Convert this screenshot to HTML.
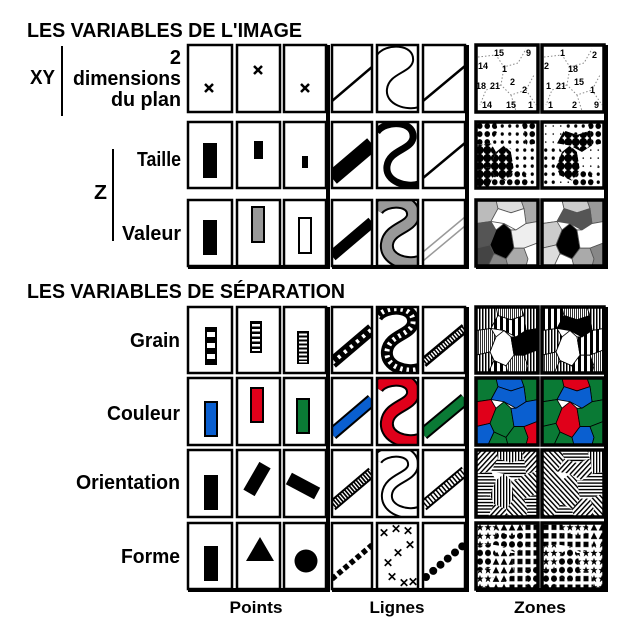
<!DOCTYPE html>
<html><head><meta charset="utf-8"><style>
html,body{margin:0;padding:0;background:#fff}
svg{display:block}
text{font-family:"Liberation Sans",sans-serif;font-weight:bold;fill:#000}
</style></head><body>
<svg width="630" height="630" viewBox="0 0 630 630" xmlns="http://www.w3.org/2000/svg">
<defs>
 <pattern id="g1" width="6" height="6" patternUnits="userSpaceOnUse"><rect width="6" height="6" fill="#fff"/><rect width="3" height="6" fill="#000"/></pattern>
 <pattern id="g2" width="3" height="3" patternUnits="userSpaceOnUse"><rect width="3" height="3" fill="#fff"/><rect width="1.5" height="3" fill="#000"/></pattern>
 <pattern id="g3" width="2" height="2" patternUnits="userSpaceOnUse"><rect width="2" height="2" fill="#fff"/><rect width="0.8" height="2" fill="#000"/></pattern>
 <pattern id="oh" width="3" height="3" patternUnits="userSpaceOnUse"><rect width="3" height="3" fill="#fff"/><rect width="3" height="1.3" fill="#000"/></pattern>
 <pattern id="ov" width="3" height="3" patternUnits="userSpaceOnUse"><rect width="3" height="3" fill="#fff"/><rect width="1.3" height="3" fill="#000"/></pattern>
 <pattern id="od" width="3.5" height="3.5" patternUnits="userSpaceOnUse" patternTransform="rotate(45)"><rect width="3.5" height="3.5" fill="#fff"/><rect width="1.4" height="3.5" fill="#000"/></pattern>
 <pattern id="oa" width="3.5" height="3.5" patternUnits="userSpaceOnUse" patternTransform="rotate(-45)"><rect width="3.5" height="3.5" fill="#fff"/><rect width="1.4" height="3.5" fill="#000"/></pattern>
 <pattern id="d1" width="7.5" height="7.5" patternUnits="userSpaceOnUse"><rect width="8" height="8" fill="#fff"/><circle cx="3.75" cy="3.75" r="3.9" fill="#000"/></pattern>
 <pattern id="d2" width="7.5" height="7.5" patternUnits="userSpaceOnUse"><rect width="8" height="8" fill="#fff"/><circle cx="3.75" cy="3.75" r="2.8" fill="#000"/></pattern>
 <pattern id="d3" width="7.5" height="7.5" patternUnits="userSpaceOnUse"><rect width="8" height="8" fill="#fff"/><circle cx="3.75" cy="3.75" r="1.6" fill="#000"/></pattern>
 <pattern id="d4" width="7.5" height="7.5" patternUnits="userSpaceOnUse"><rect width="8" height="8" fill="#fff"/><circle cx="3.75" cy="3.75" r="0.8" fill="#000"/></pattern>
 <pattern id="fs" width="8" height="8" patternUnits="userSpaceOnUse"><rect width="8" height="8" fill="#fff"/><rect x="1.5" y="1.5" width="5" height="5" fill="#000"/></pattern>
 <pattern id="fc" width="8" height="8" patternUnits="userSpaceOnUse"><rect width="8" height="8" fill="#fff"/><circle cx="4" cy="4" r="3" fill="#000"/></pattern>
 <pattern id="ft" width="8" height="8" patternUnits="userSpaceOnUse"><rect width="8" height="8" fill="#fff"/><polygon points="4,0.8 7.3,7 0.7,7" fill="#000"/></pattern>
 <pattern id="fr" width="8" height="8" patternUnits="userSpaceOnUse"><rect width="8" height="8" fill="#fff"/><polygon points="4,0.5 5,3 7.6,3 5.5,4.6 6.3,7.3 4,5.7 1.7,7.3 2.5,4.6 0.4,3 3,3" fill="#000"/></pattern>
 <g id="map" style="stroke:var(--s,#555);stroke-width:0.8">
  <polygon fill="var(--c1)" points="0,0 20,0 22,8 15,20 0,22"/>
  <polygon fill="var(--c2)" points="20,0 45,0 48,8 35,12 22,8"/>
  <polygon fill="var(--c3)" points="45,0 62,0 62,20 50,22 48,8"/>
  <polygon fill="var(--c4)" points="22,8 35,12 48,8 50,22 40,28 28,22 15,20"/>
  <polygon fill="var(--c5)" points="0,22 15,20 20,28 14,42 0,45"/>
  <polygon fill="var(--c6)" points="20,28 28,22 35,28 38,45 30,55 18,50 14,42"/>
  <polygon fill="var(--c7)" points="35,28 40,28 50,22 62,20 62,40 48,45 38,45"/>
  <polygon fill="var(--c8)" points="0,45 14,42 18,50 12,62 0,62"/>
  <polygon fill="var(--c9)" points="18,50 30,55 32,62 12,62"/>
  <polygon fill="var(--c10)" points="30,55 38,45 48,45 52,55 50,62 32,62"/>
  <polygon fill="var(--c11)" points="48,45 62,40 62,62 50,62 52,55"/>
 </g>
 <path id="sc" d="M0,10 C8,-2 38,-2 36,16 C34,28 12,28 10,44 C8,60 30,66 42,62"/>
</defs>

<text x="27" y="37" font-size="20" textLength="275" lengthAdjust="spacingAndGlyphs">LES VARIABLES DE L'IMAGE</text>
<text x="27" y="298" font-size="20" textLength="318" lengthAdjust="spacingAndGlyphs">LES VARIABLES DE SÉPARATION</text>

<text x="30" y="84" font-size="20" textLength="25" lengthAdjust="spacingAndGlyphs">XY</text>
<rect x="61" y="46" width="2" height="70"/>
<text x="181" y="64" font-size="20" text-anchor="end">2</text>
<text x="181" y="85" font-size="20" text-anchor="end" textLength="108" lengthAdjust="spacingAndGlyphs">dimensions</text>
<text x="181" y="106" font-size="20" text-anchor="end" textLength="70" lengthAdjust="spacingAndGlyphs">du plan</text>
<text x="94" y="199" font-size="20" textLength="13" lengthAdjust="spacingAndGlyphs">Z</text>
<rect x="112" y="149" width="2" height="92"/>
<text x="181" y="166" font-size="20" text-anchor="end" textLength="44" lengthAdjust="spacingAndGlyphs">Taille</text>
<text x="181" y="240" font-size="20" text-anchor="end" textLength="59" lengthAdjust="spacingAndGlyphs">Valeur</text>
<text x="180" y="347" font-size="20" text-anchor="end" textLength="50" lengthAdjust="spacingAndGlyphs">Grain</text>
<text x="180" y="420" font-size="20" text-anchor="end" textLength="73" lengthAdjust="spacingAndGlyphs">Couleur</text>
<text x="180" y="489" font-size="20" text-anchor="end" textLength="104" lengthAdjust="spacingAndGlyphs">Orientation</text>
<text x="180" y="563" font-size="20" text-anchor="end" textLength="59" lengthAdjust="spacingAndGlyphs">Forme</text>
<text x="256" y="613" font-size="17" text-anchor="middle" textLength="53" lengthAdjust="spacingAndGlyphs">Points</text>
<text x="397" y="613" font-size="17" text-anchor="middle" textLength="55" lengthAdjust="spacingAndGlyphs">Lignes</text>
<text x="540" y="613" font-size="17" text-anchor="middle" textLength="52" lengthAdjust="spacingAndGlyphs">Zones</text>

<g fill="none" stroke="#000" stroke-width="2.5">
 <path d="M205,84 l8,8 M213,84 l-8,8 M254,66 l8,8 M262,66 l-8,8 M301,84 l8,8 M309,84 l-8,8"/>
</g>
<rect x="203" y="143" width="14" height="35"/>
<rect x="254" y="141" width="9" height="18"/>
<rect x="302" y="156" width="6" height="12"/>
<rect x="203" y="220" width="14" height="35"/>
<rect x="252" y="207" width="12" height="35" fill="#999" stroke="#000" stroke-width="2"/>
<rect x="299" y="218" width="12" height="35" fill="#fff" stroke="#000" stroke-width="2"/>

<svg x="332" y="45" width="40" height="67"><line x1="0" y1="56" x2="40" y2="22" stroke="#000" stroke-width="2.5"/></svg>
<svg x="377" y="45" width="41" height="67"><use href="#sc" fill="none" stroke="#000" stroke-width="2"/></svg>
<svg x="423" y="45" width="42" height="67"><line x1="0" y1="56" x2="42" y2="21" stroke="#000" stroke-width="2.5"/></svg>
<svg x="332" y="122" width="40" height="66"><line x1="0" y1="56" x2="40" y2="22" stroke="#000" stroke-width="15"/></svg>
<svg x="377" y="122" width="41" height="66"><use href="#sc" fill="none" stroke="#000" stroke-width="7"/></svg>
<svg x="423" y="122" width="42" height="66"><line x1="0" y1="56" x2="42" y2="21" stroke="#000" stroke-width="2.5"/></svg>
<svg x="332" y="200" width="40" height="66"><line x1="0" y1="56" x2="40" y2="22" stroke="#000" stroke-width="11"/></svg>
<svg x="377" y="200" width="41" height="66"><use href="#sc" fill="none" stroke="#000" stroke-width="14"/><use href="#sc" fill="none" stroke="#999" stroke-width="10"/></svg>
<svg x="423" y="200" width="42" height="66"><line x1="0" y1="52" x2="42" y2="17" stroke="#999" stroke-width="1.5"/><line x1="0" y1="61" x2="42" y2="26" stroke="#999" stroke-width="1.5"/></svg>

<g font-size="9">
 <svg x="476" y="45" width="62" height="67">
  <rect width="62" height="67" fill="#fff"/>
  <path d="M2,12 L20,10 L28,22 L42,18 L50,4 M28,22 L25,40 L35,50 L50,45 L58,30 M25,40 L10,45 L4,60 M35,50 L40,66 M50,45 L60,60" fill="none" stroke="#888" stroke-width="1" stroke-dasharray="1.5 2"/>
  <text x="18" y="11">15</text><text x="50" y="11">9</text><text x="2" y="24">14</text><text x="26" y="27">1</text>
  <text x="0" y="44">18</text><text x="14" y="44">21</text><text x="34" y="40">2</text><text x="46" y="48">2</text>
  <text x="6" y="63">14</text><text x="30" y="63">15</text><text x="52" y="63">1</text>
 </svg>
 <svg x="542" y="45" width="62" height="67">
  <rect width="62" height="67" fill="#fff"/>
  <path d="M2,12 L20,10 L28,22 L42,18 L50,4 M28,22 L25,40 L35,50 L50,45 L58,30 M25,40 L10,45 L4,60 M35,50 L40,66 M50,45 L60,60" fill="none" stroke="#888" stroke-width="1" stroke-dasharray="1.5 2"/>
  <text x="18" y="11">1</text><text x="50" y="13">2</text><text x="2" y="24">2</text><text x="26" y="27">18</text>
  <text x="4" y="44">1</text><text x="14" y="44">21</text><text x="32" y="40">15</text><text x="48" y="48">1</text>
  <text x="6" y="63">1</text><text x="30" y="63">2</text><text x="52" y="63">9</text>
 </svg>
</g>
<svg x="476" y="122" width="62" height="66"><use href="#map" style="--s:none;--c1:url(#d2);--c2:url(#d3);--c3:url(#d2);--c4:url(#d3);--c5:url(#d1);--c6:url(#d1);--c7:url(#d3);--c8:url(#d1);--c9:url(#d2);--c10:url(#d2);--c11:url(#d3)" transform="scale(1,1.07)"/></svg>
<svg x="542" y="122" width="62" height="66"><use href="#map" style="--s:none;--c1:url(#d4);--c2:url(#d3);--c3:url(#d2);--c4:url(#d1);--c5:url(#d3);--c6:url(#d1);--c7:url(#d4);--c8:url(#d3);--c9:url(#d4);--c10:url(#d2);--c11:url(#d3)" transform="scale(1,1.07)"/></svg>
<svg x="476" y="200" width="62" height="66"><use href="#map" style="--s:#555;--c1:#bbb;--c2:#ddd;--c3:#aaa;--c4:#fff;--c5:#555;--c6:#000;--c7:#eee;--c8:#444;--c9:#888;--c10:#aaa;--c11:#fff" transform="scale(1,1.07)"/></svg>
<svg x="542" y="200" width="62" height="66"><use href="#map" style="--s:#555;--c1:#fff;--c2:#ccc;--c3:#999;--c4:#555;--c5:#ccc;--c6:#000;--c7:#fff;--c8:#ddd;--c9:#fff;--c10:#aaa;--c11:#888" transform="scale(1,1.07)"/></svg>

<g fill="none" stroke="#000" stroke-width="2.5">
 <rect x="188" y="45" width="44" height="67"/><rect x="237" y="45" width="43" height="67"/><rect x="284" y="45" width="42" height="67"/>
 <rect x="188" y="122" width="44" height="66"/><rect x="237" y="122" width="43" height="66"/><rect x="284" y="122" width="42" height="66"/>
 <rect x="188" y="200" width="44" height="66"/><rect x="237" y="200" width="43" height="66"/><rect x="284" y="200" width="42" height="66"/>
 <rect x="332" y="45" width="40" height="67"/><rect x="377" y="45" width="41" height="67"/><rect x="423" y="45" width="42" height="67"/>
 <rect x="332" y="122" width="40" height="66"/><rect x="377" y="122" width="41" height="66"/><rect x="423" y="122" width="42" height="66"/>
 <rect x="332" y="200" width="40" height="66"/><rect x="377" y="200" width="41" height="66"/><rect x="423" y="200" width="42" height="66"/>
</g>
<g fill="none" stroke="#000" stroke-width="3.5">
 <rect x="476" y="45" width="62" height="67"/><rect x="542" y="45" width="62" height="67"/>
 <rect x="476" y="122" width="62" height="66"/><rect x="542" y="122" width="62" height="66"/>
 <rect x="476" y="200" width="62" height="66"/><rect x="542" y="200" width="62" height="66"/>
</g>
<rect x="326" y="45" width="4" height="224"/>
<rect x="465" y="45" width="4" height="224"/>
<rect x="604" y="45" width="4" height="224"/>
<rect x="188" y="265" width="142" height="4"/>
<rect x="332" y="265" width="137" height="4"/>
<rect x="476" y="265" width="132" height="4"/>

<rect x="205" y="327" width="12" height="38"/>
<g fill="#fff"><rect x="207" y="332" width="8" height="5"/><rect x="207" y="343" width="8" height="5"/><rect x="207" y="354" width="8" height="5"/></g>
<rect x="250" y="321" width="12" height="32"/>
<g fill="#fff"><rect x="252" y="324" width="8" height="2.5"/><rect x="252" y="329" width="8" height="2.5"/><rect x="252" y="334" width="8" height="2.5"/><rect x="252" y="339" width="8" height="2.5"/><rect x="252" y="344" width="8" height="2.5"/><rect x="252" y="349" width="8" height="2"/></g>
<rect x="297" y="331" width="12" height="33"/>
<g fill="#fff"><rect x="299" y="333.5" width="8" height="2"/><rect x="299" y="337.5" width="8" height="2"/><rect x="299" y="341.5" width="8" height="2"/><rect x="299" y="345.5" width="8" height="2"/><rect x="299" y="349.5" width="8" height="2"/><rect x="299" y="353.5" width="8" height="2"/><rect x="299" y="357.5" width="8" height="2"/><rect x="299" y="361" width="8" height="1.5"/></g>
<g stroke="#000" stroke-width="2">
 <rect x="205" y="402" width="12" height="34" fill="#0a5fd0"/>
<rect x="251" y="388" width="12" height="34" fill="#e0001a"/>
<rect x="297" y="399" width="12" height="34" fill="#0a7a35"/>
</g>
<rect x="204" y="475" width="14" height="35"/>
<rect x="-6.5" y="-16" width="13" height="32" transform="translate(257,479) rotate(30)"/>
<rect x="-16" y="-6.5" width="32" height="13" transform="translate(303,486) rotate(28)"/>
<rect x="204" y="546" width="14" height="35"/>
<polygon points="246,561 260,537 274,561"/>
<circle cx="306" cy="561" r="11.5"/>

<svg x="332" y="307" width="40" height="66"><line x1="0" y1="56" x2="40" y2="22" stroke="#000" stroke-width="12"/><line x1="0" y1="56" x2="40" y2="22" stroke="#fff" stroke-width="4" stroke-dasharray="3 5"/></svg>
<svg x="377" y="307" width="41" height="66"><use href="#sc" fill="none" stroke="#000" stroke-width="12"/><use href="#sc" fill="none" stroke="#fff" stroke-width="5" stroke-dasharray="2.5 4"/></svg>
<svg x="423" y="307" width="42" height="66"><line x1="0" y1="56" x2="42" y2="21" stroke="#000" stroke-width="10"/><line x1="0" y1="56" x2="42" y2="21" stroke="#fff" stroke-width="5" stroke-dasharray="1.5 1.5"/></svg>

<svg x="332" y="378" width="40" height="67"><line x1="0" y1="56" x2="40" y2="22" stroke="#000" stroke-width="13"/><line x1="0" y1="56" x2="40" y2="22" stroke="#0a5fd0" stroke-width="9"/></svg>
<svg x="377" y="378" width="41" height="67"><use href="#sc" fill="none" stroke="#000" stroke-width="14"/><use href="#sc" fill="none" stroke="#e0001a" stroke-width="10"/></svg>
<svg x="423" y="378" width="42" height="67"><line x1="0" y1="56" x2="42" y2="21" stroke="#000" stroke-width="13"/><line x1="0" y1="56" x2="42" y2="21" stroke="#0a7a35" stroke-width="9"/></svg>

<svg x="332" y="450" width="40" height="67"><line x1="0" y1="56" x2="40" y2="22" stroke="#000" stroke-width="11"/><line x1="0" y1="56" x2="40" y2="22" stroke="#fff" stroke-width="7" stroke-dasharray="1.3 1.7"/></svg>
<svg x="377" y="450" width="41" height="67"><use href="#sc" fill="none" stroke="#000" stroke-width="12"/><use href="#sc" fill="none" stroke="#fff" stroke-width="8"/></svg>
<svg x="423" y="450" width="42" height="67"><line x1="0" y1="56" x2="42" y2="21" stroke="#000" stroke-width="11"/><line x1="0" y1="56" x2="42" y2="21" stroke="#fff" stroke-width="7" stroke-dasharray="2 1.5"/></svg>

<svg x="332" y="523" width="40" height="66"><line x1="0" y1="56" x2="40" y2="22" stroke="#000" stroke-width="5.5" stroke-dasharray="5 3"/></svg>
<svg x="377" y="523" width="41" height="66"><g font-size="12" font-weight="bold"><text x="2" y="14">✕</text><text x="14" y="10">✕</text><text x="26" y="12">✕</text><text x="28" y="26">✕</text><text x="16" y="34">✕</text><text x="6" y="44">✕</text><text x="10" y="58">✕</text><text x="22" y="64">✕</text><text x="31" y="63">✕</text></g></svg>
<svg x="423" y="523" width="42" height="66"><line x1="3" y1="54" x2="42" y2="21" stroke="#000" stroke-width="8" stroke-linecap="round" stroke-dasharray="0 9.5"/></svg>

<svg x="476" y="307" width="62" height="66"><use href="#map" style="--s:#000;--c1:url(#g2);--c2:url(#g3);--c3:url(#g2);--c4:url(#g1);--c5:url(#g3);--c6:#fff;--c7:#000;--c8:url(#g2);--c9:url(#g1);--c10:url(#g3);--c11:url(#g2)" transform="scale(1,1.07)"/></svg>
<svg x="542" y="307" width="62" height="66"><use href="#map" style="--s:#000;--c1:url(#g1);--c2:url(#g3);--c3:url(#g2);--c4:#000;--c5:url(#g2);--c6:#fff;--c7:url(#g1);--c8:url(#g3);--c9:url(#g2);--c10:url(#g1);--c11:url(#g3)" transform="scale(1,1.07)"/></svg>
<svg x="476" y="378" width="62" height="67"><use href="#map" style="--s:#000;--c1:#0a7a35;--c2:#0a5fd0;--c3:#0a7a35;--c4:#0a5fd0;--c5:#e0001a;--c6:#0a7a35;--c7:#0a5fd0;--c8:#0a5fd0;--c9:#0a7a35;--c10:#0a7a35;--c11:#e0001a" transform="scale(1,1.08)"/></svg>
<svg x="542" y="378" width="62" height="67"><use href="#map" style="--s:#000;--c1:#0a7a35;--c2:#e0001a;--c3:#0a7a35;--c4:#0a5fd0;--c5:#0a7a35;--c6:#e0001a;--c7:#0a7a35;--c8:#0a7a35;--c9:#0a7a35;--c10:#0a5fd0;--c11:#0a7a35" transform="scale(1,1.08)"/></svg>
<svg x="476" y="450" width="62" height="67"><use href="#map" style="--s:none;--c1:url(#od);--c2:url(#ov);--c3:url(#od);--c4:url(#oh);--c5:url(#oh);--c6:url(#ov);--c7:url(#oa);--c8:url(#oh);--c9:url(#od);--c10:url(#oa);--c11:url(#oh)" transform="scale(1,1.08)"/></svg>
<svg x="542" y="450" width="62" height="67"><use href="#map" style="--s:none;--c1:url(#oa);--c2:url(#oh);--c3:url(#ov);--c4:url(#od);--c5:url(#oa);--c6:url(#oa);--c7:url(#oh);--c8:url(#oa);--c9:url(#oh);--c10:url(#od);--c11:url(#oa)" transform="scale(1,1.08)"/></svg>
<svg x="476" y="523" width="62" height="66"><use href="#map" style="--s:none;--c1:url(#fr);--c2:url(#ft);--c3:url(#fs);--c4:url(#fc);--c5:url(#fc);--c6:url(#ft);--c7:url(#fs);--c8:url(#fr);--c9:url(#ft);--c10:url(#fs);--c11:url(#fc)" transform="scale(1,1.07)"/></svg>
<svg x="542" y="523" width="62" height="66"><use href="#map" style="--s:none;--c1:url(#fs);--c2:url(#fr);--c3:url(#ft);--c4:url(#fs);--c5:url(#fr);--c6:url(#fc);--c7:url(#fr);--c8:url(#fc);--c9:url(#fs);--c10:url(#fs);--c11:url(#fr)" transform="scale(1,1.07)"/></svg>

<g fill="none" stroke="#000" stroke-width="2.5">
 <rect x="188" y="307" width="44" height="66"/><rect x="237" y="307" width="43" height="66"/><rect x="284" y="307" width="42" height="66"/>
 <rect x="188" y="378" width="44" height="67"/><rect x="237" y="378" width="43" height="67"/><rect x="284" y="378" width="42" height="67"/>
 <rect x="188" y="450" width="44" height="67"/><rect x="237" y="450" width="43" height="67"/><rect x="284" y="450" width="42" height="67"/>
 <rect x="188" y="523" width="44" height="66"/><rect x="237" y="523" width="43" height="66"/><rect x="284" y="523" width="42" height="66"/>
 <rect x="332" y="307" width="40" height="66"/><rect x="377" y="307" width="41" height="66"/><rect x="423" y="307" width="42" height="66"/>
 <rect x="332" y="378" width="40" height="67"/><rect x="377" y="378" width="41" height="67"/><rect x="423" y="378" width="42" height="67"/>
 <rect x="332" y="450" width="40" height="67"/><rect x="377" y="450" width="41" height="67"/><rect x="423" y="450" width="42" height="67"/>
 <rect x="332" y="523" width="40" height="66"/><rect x="377" y="523" width="41" height="66"/><rect x="423" y="523" width="42" height="66"/>
</g>
<g fill="none" stroke="#000" stroke-width="3.5">
 <rect x="476" y="307" width="62" height="66"/><rect x="542" y="307" width="62" height="66"/>
 <rect x="476" y="378" width="62" height="67"/><rect x="542" y="378" width="62" height="67"/>
 <rect x="476" y="450" width="62" height="67"/><rect x="542" y="450" width="62" height="67"/>
 <rect x="476" y="523" width="62" height="66"/><rect x="542" y="523" width="62" height="66"/>
</g>
<rect x="326" y="307" width="4" height="285"/>
<rect x="465" y="307" width="4" height="285"/>
<rect x="604" y="307" width="4" height="285"/>
<rect x="188" y="588" width="142" height="4"/>
<rect x="332" y="588" width="137" height="4"/>
<rect x="476" y="588" width="132" height="4"/>
</svg>
</body></html>
